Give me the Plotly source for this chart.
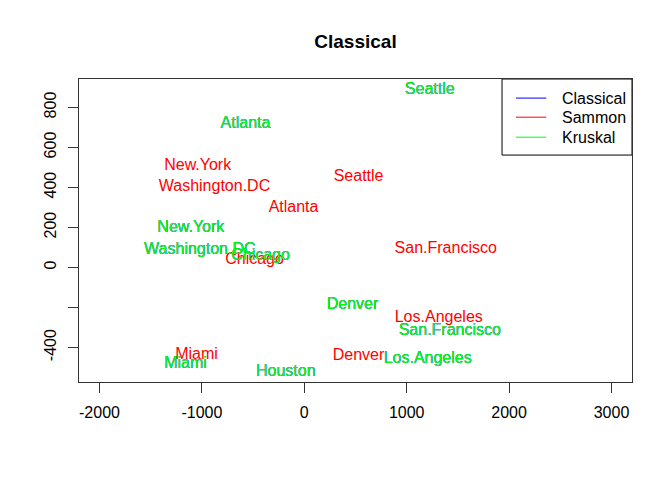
import plotly.graph_objects as go

cities = ["Atlanta", "Chicago", "Denver", "Houston", "Los.Angeles", "Miami",
          "New.York", "San.Francisco", "Seattle", "Washington.DC"]

classical_x = [-574, -427, 471, -181, 1205, -1160, -1108, 1421, 1225, -1020]
classical_y = [716, 56, -189, -520, -459, -484, 196, -317, 886, 86]

kruskal_x = [-574, -427, 471, -181, 1205, -1160, -1108, 1421, 1225, -1020]
kruskal_y = [716, 56, -189, -520, -459, -484, 196, -317, 886, 86]

sammon_cities = ["Atlanta", "Chicago", "Denver", "Los.Angeles", "Miami",
                 "New.York", "San.Francisco", "Seattle", "Washington.DC"]
sammon_x = [-105, -486, 530, 1313, -1052, -1041, 1381, 530, -877]
sammon_y = [298, 36, -444, -254, -439, 508, 91, 450, 403]

x_ticks = [-2000, -1000, 0, 1000, 2000, 3000]
y_ticks = [800, 600, 400, 200, 0, -200, -400]
y_ticklabels = ["800", "600", "400", "200", "0", "", "-400"]

legend_names = ["Classical", "Sammon", "Kruskal"]
legend_colors = ["#0000FF", "#FF0000", "#00FF00"]

FONT = "Liberation Sans, Arial, sans-serif"

fig = go.Figure()
fig.add_trace(go.Scatter(x=classical_x, y=classical_y, text=cities, mode="text",
                         textfont=dict(color="#0000FF", size=16, family=FONT),
                         showlegend=False))
fig.add_trace(go.Scatter(x=sammon_x, y=sammon_y, text=sammon_cities, mode="text",
                         textfont=dict(color="#FF0000", size=16, family=FONT),
                         showlegend=False))
fig.add_trace(go.Scatter(x=kruskal_x, y=kruskal_y, text=cities, mode="text",
                         textfont=dict(color="#00FF00", size=16, family=FONT),
                         showlegend=False))

# manual legend (R style)
shapes = [dict(type="rect", xref="paper", yref="paper", x0=0.765, x1=1.0,
               y0=0.749, y1=1.0, line=dict(color="black", width=1),
               fillcolor="white", layer="below")]
annotations = []
ly = [0.937, 0.874, 0.808]
for name, col, yy in zip(legend_names, legend_colors, ly):
    shapes.append(dict(type="line", xref="paper", yref="paper", x0=0.790, x1=0.845,
                       y0=yy, y1=yy, line=dict(color=col, width=1)))
    annotations.append(dict(xref="paper", yref="paper", x=0.869, y=yy, text=name,
                            showarrow=False, xanchor="left", yanchor="middle",
                            font=dict(size=16, color="black", family=FONT)))

fig.update_layout(
    width=672, height=480,
    margin=dict(l=79, r=40, t=79, b=98),
    paper_bgcolor="white", plot_bgcolor="white",
    title=dict(text="<b>Classical</b>", x=0.5, xref="paper", y=1 - 41 / 480,
               yref="container", xanchor="center", yanchor="middle",
               font=dict(size=19, color="black", family=FONT)),
    font=dict(family=FONT, size=16, color="black"),
    shapes=shapes, annotations=annotations,
    showlegend=False,
)
fig.update_xaxes(range=[-2200, 3200], tickvals=x_ticks, ticktext=[str(v) for v in x_ticks],
                 showgrid=False, zeroline=False, showline=True, mirror=True,
                 linecolor="#333333", linewidth=1, ticks="outside", ticklen=10,
                 tickcolor="#333333", tickfont=dict(size=16, color="black"),
                 ticklabelstandoff=6)
fig.update_yaxes(range=[-572, 942], tickvals=y_ticks, ticktext=y_ticklabels,
                 tickangle=-90, showgrid=False, zeroline=False, showline=True,
                 mirror=True, linecolor="#333333", linewidth=1, ticks="outside",
                 ticklen=10, tickcolor="#333333", tickfont=dict(size=16, color="black"),
                 ticklabelstandoff=6)

fig.write_html("out.html")
